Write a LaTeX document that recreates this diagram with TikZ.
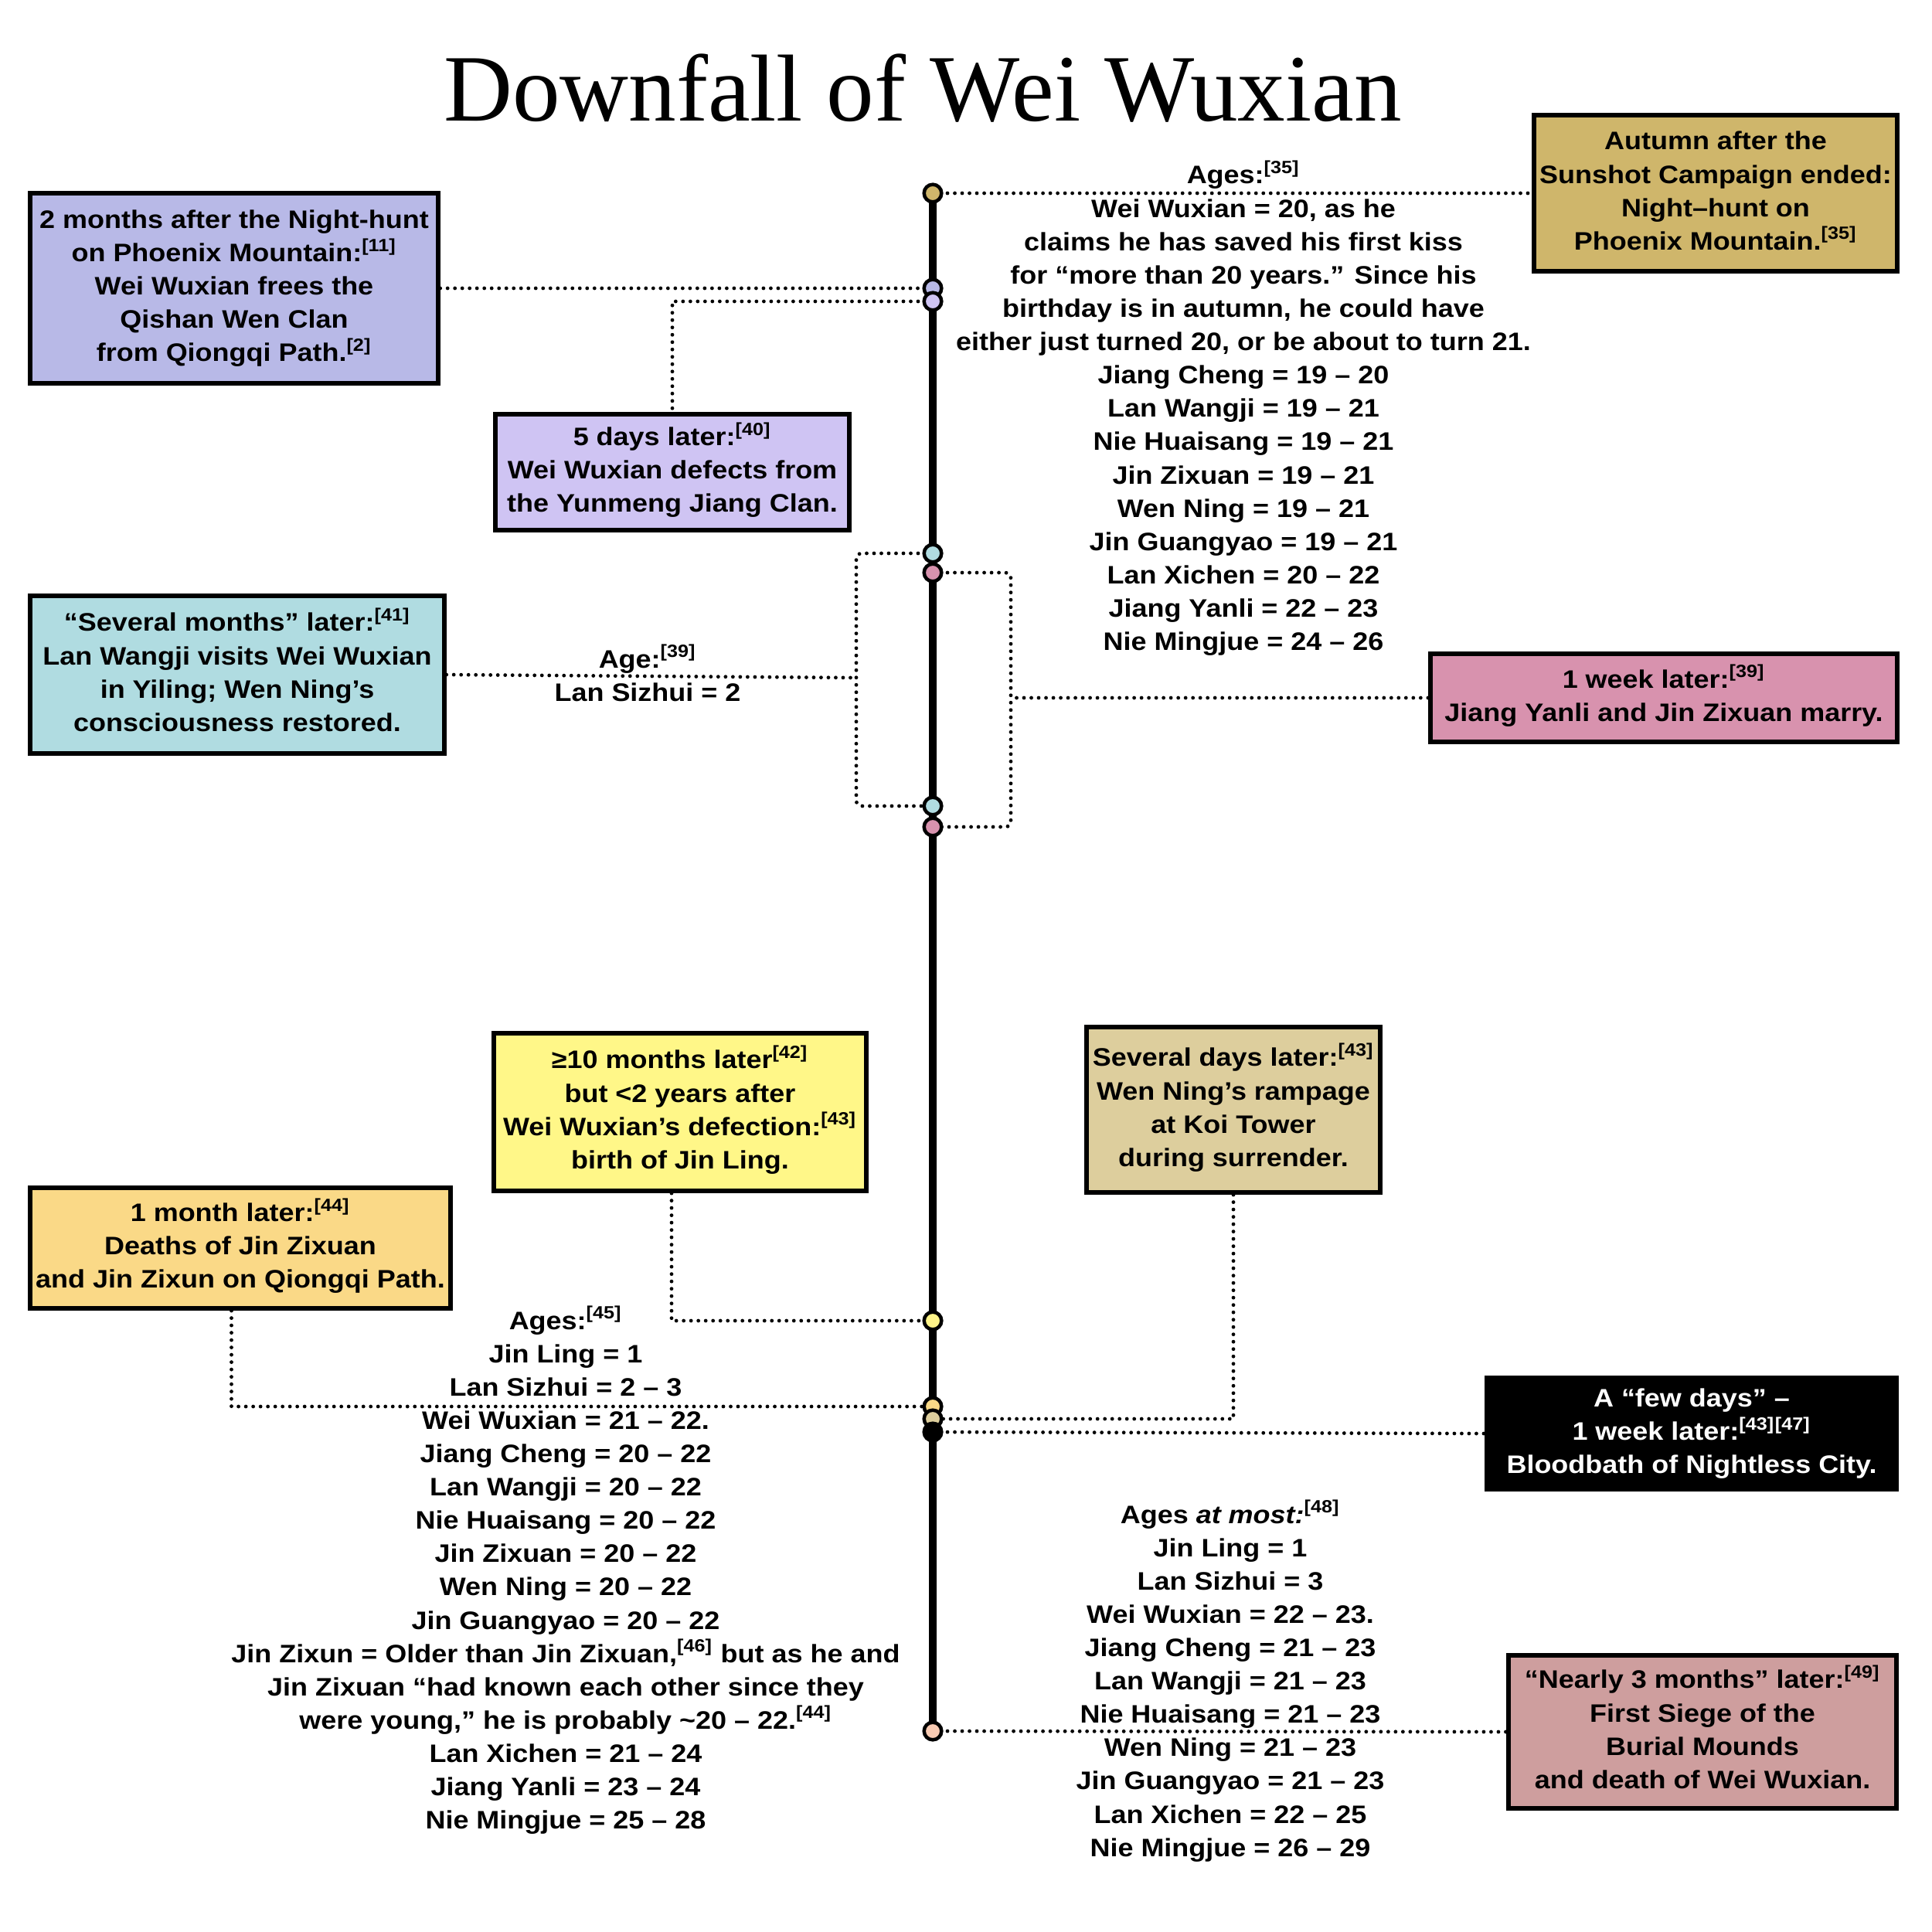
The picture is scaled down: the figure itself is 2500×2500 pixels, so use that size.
\documentclass[tikz,border=0pt]{standalone}
\usepackage{fontspec}
\setmainfont{Liberation Sans}[FakeStretch=1.1]
\newfontfamily\titlefont{Liberation Serif}
\usetikzlibrary{backgrounds}
\newcommand\sr[1]{\smash{\textsuperscript{[#1]}}}
\newcommand\bodyfont{\bfseries\fontsize{9.3}{12.26}\selectfont}
\newcommand\lines[1]{\begin{tabular}[t]{@{}c@{}}#1\end{tabular}}
\definecolor{cAut}{HTML}{CFB66B}
\definecolor{cTwo}{HTML}{B8B9E7}
\definecolor{cFive}{HTML}{CFC4F3}
\definecolor{cSev}{HTML}{B0DCE1}
\definecolor{cWeek}{HTML}{D892AE}
\definecolor{cTen}{HTML}{FFF788}
\definecolor{cTenDot}{HTML}{FFF489}
\definecolor{cDays}{HTML}{DDCE9D}
\definecolor{cMonth}{HTML}{FAD987}
\definecolor{cNear}{HTML}{CE9E9E}
\definecolor{cPeach}{HTML}{F9CBB3}
\tikzset{
  box/.style={draw=black, line width=0.06cm, inner sep=0pt, font=\bodyfont},
  txt/.style={inner sep=0pt, font=\bodyfont, anchor=base},
  ev/.style={circle, draw=black, line width=0.045cm, minimum size=0.226cm, inner sep=0pt},
  conn/.style={line width=0.048cm, dash pattern=on 0pt off 0.095cm, line cap=round},
  tline/.style={line width=0.1cm},
}
\begin{document}
\begin{tikzpicture}[x=0.01cm, y=-0.01cm]
\useasboundingbox (0,0) rectangle (2500,2500);

% title
\node[inner sep=0pt, anchor=base, font=\titlefont\fontsize{35}{40}\selectfont] (title) at (1194,157) {Downfall of Wei Wuxian};

% event boxes
\node[box, fill=cAut, minimum width=4.69cm, minimum height=2.02cm] (A) at (2220,250)
  {\lines{Autumn after the\\ Sunshot Campaign ended:\\ Night–hunt on\\ Phoenix Mountain.\sr{35}}};
\node[box, fill=cTwo, minimum width=5.27cm, minimum height=2.46cm] (B) at (303,373)
  {\lines{2 months after the Night-hunt\\ on Phoenix Mountain:\sr{11}\\ Wei Wuxian frees the\\ Qishan Wen Clan\\ from Qiongqi Path.\sr{2}}};
\node[box, fill=cFive, minimum width=4.58cm, minimum height=1.50cm] (C) at (870,611)
  {\lines{5 days later:\sr{40}\\ Wei Wuxian defects from\\ the Yunmeng Jiang Clan.}};
\node[box, fill=cSev, minimum width=5.35cm, minimum height=2.04cm] (D) at (307,873)
  {\lines{“Several months” later:\sr{41}\\ Lan Wangji visits Wei Wuxian\\ in Yiling; Wen Ning’s\\ consciousness restored.}};
\node[box, fill=cWeek, minimum width=6.04cm, minimum height=1.14cm] (E) at (2153,903)
  {\lines{1 week later:\sr{39}\\ Jiang Yanli and Jin Zixuan marry.}};
\node[box, fill=cTen, minimum width=4.82cm, minimum height=2.04cm] (F) at (880,1439)
  {\lines{≥10 months later\sr{42}\\ but <2 years after\\ Wei Wuxian’s defection:\sr{43}\\ birth of Jin Ling.}};
\node[box, fill=cDays, minimum width=3.79cm, minimum height=2.14cm] (G) at (1596,1436)
  {\lines{Several days later:\sr{43}\\ Wen Ning’s rampage\\ at Koi Tower\\ during surrender.}};
\node[box, fill=cMonth, minimum width=5.43cm, minimum height=1.56cm] (H) at (311,1615)
  {\lines{1 month later:\sr{44}\\ Deaths of Jin Zixuan\\ and Jin Zixun on Qiongqi Path.}};
\node[box, fill=black, text=white, minimum width=5.30cm, minimum height=1.44cm] (I) at (2189,1855)
  {\lines{A “few days” –\\ 1 week later:\sr{43}\sr{47}\\ Bloodbath of Nightless City.}};
\node[box, fill=cNear, minimum width=5.02cm, minimum height=1.98cm] (J) at (2203,2241)
  {\lines{“Nearly 3 months” later:\sr{49}\\ First Siege of the\\ Burial Mounds\\ and death of Wei Wuxian.}};

% age texts
\node[txt] (ages35) at (1609,238) {\lines{Ages:\sr{35}\\ Wei Wuxian = 20, as he\\ claims he has saved his first kiss\\ for “more than 20 years.” Since his\\ birthday is in autumn, he could have\\ either just turned 20, or be about to turn 21.\\ Jiang Cheng = 19 – 20\\ Lan Wangji = 19 – 21\\ Nie Huaisang = 19 – 21\\ Jin Zixuan = 19 – 21\\ Wen Ning = 19 – 21\\ Jin Guangyao = 19 – 21\\ Lan Xichen = 20 – 22\\ Jiang Yanli = 22 – 23\\ Nie Mingjue = 24 – 26}};
\node[txt] (age39) at (838,864) {\lines{Age:\sr{39}\\ Lan Sizhui = 2}};
\node[txt] (ages45) at (732,1720) {\lines{Ages:\sr{45}\\ Jin Ling = 1\\ Lan Sizhui = 2 – 3\\ Wei Wuxian = 21 – 22.\\ Jiang Cheng = 20 – 22\\ Lan Wangji = 20 – 22\\ Nie Huaisang = 20 – 22\\ Jin Zixuan = 20 – 22\\ Wen Ning = 20 – 22\\ Jin Guangyao = 20 – 22\\ Jin Zixun = Older than Jin Zixuan,\sr{46} but as he and\\ Jin Zixuan “had known each other since they\\ were young,” he is probably \textasciitilde20 – 22.\sr{44}\\ Lan Xichen = 21 – 24\\ Jiang Yanli = 23 – 24\\ Nie Mingjue = 25 – 28}};
\node[txt] (ages48) at (1592,1971) {\lines{Ages \textit{at most:}\sr{48}\\ Jin Ling = 1\\ Lan Sizhui = 3\\ Wei Wuxian = 22 – 23.\\ Jiang Cheng = 21 – 23\\ Lan Wangji = 21 – 23\\ Nie Huaisang = 21 – 23\\ Wen Ning = 21 – 23\\ Jin Guangyao = 21 – 23\\ Lan Xichen = 22 – 25\\ Nie Mingjue = 26 – 29}};

% timeline dots
\node[ev, fill=cAut] (dA) at (1207,250) {};
\node[ev, fill=cTwo] (dB1) at (1207,373) {};
\node[ev, fill=cFive] (dB2) at (1207,390) {};
\node[ev, fill=cSev] (dC1) at (1207,716) {};
\node[ev, fill=cWeek] (dP1) at (1207,741) {};
\node[ev, fill=cSev] (dC2) at (1207,1043) {};
\node[ev, fill=cWeek] (dP2) at (1207,1070) {};
\node[ev, fill=cTenDot] (dY) at (1207,1709) {};
\node[ev, fill=cMonth] (dO) at (1207,1820) {};
\node[ev, fill=cDays] (dT) at (1207,1836) {};
\node[ev, fill=black] (dK) at (1207,1853) {};
\node[ev, fill=cPeach] (dPe) at (1207,2240) {};

\coordinate (lb) at (1108,877);
\coordinate (rb) at (1308,903);

\begin{scope}[on background layer]
  \fill[white] (0,0) rectangle (2500,2500);
  \draw[conn] (dA.center) -- (A.west);
  \draw[conn] (B.east) -- (dB1.center);
  \draw[conn] (dB2.center) -| (C.north);
  \draw[conn] (D.east) -- (lb);
  \draw[conn, rounded corners=2pt] (dC1.center) -| (lb) |- (dC2.center);
  \draw[conn] (E.west) -- (rb);
  \draw[conn, rounded corners=2pt] (dP1.center) -| (rb) |- (dP2.center);
  \draw[conn] ([xshift=-0.11cm]F.south) |- (dY.center);
  \draw[conn] ([xshift=-0.115cm]H.south) |- (dO.center);
  \draw[conn] (G.south) |- (dT.center);
  \draw[conn] (dK.center) -- (I.west);
  \draw[conn] (dPe.center) -- (J.west);
  \draw[tline] (dA.center) -- (dPe.center);
\end{scope}
\end{tikzpicture}
\end{document}
